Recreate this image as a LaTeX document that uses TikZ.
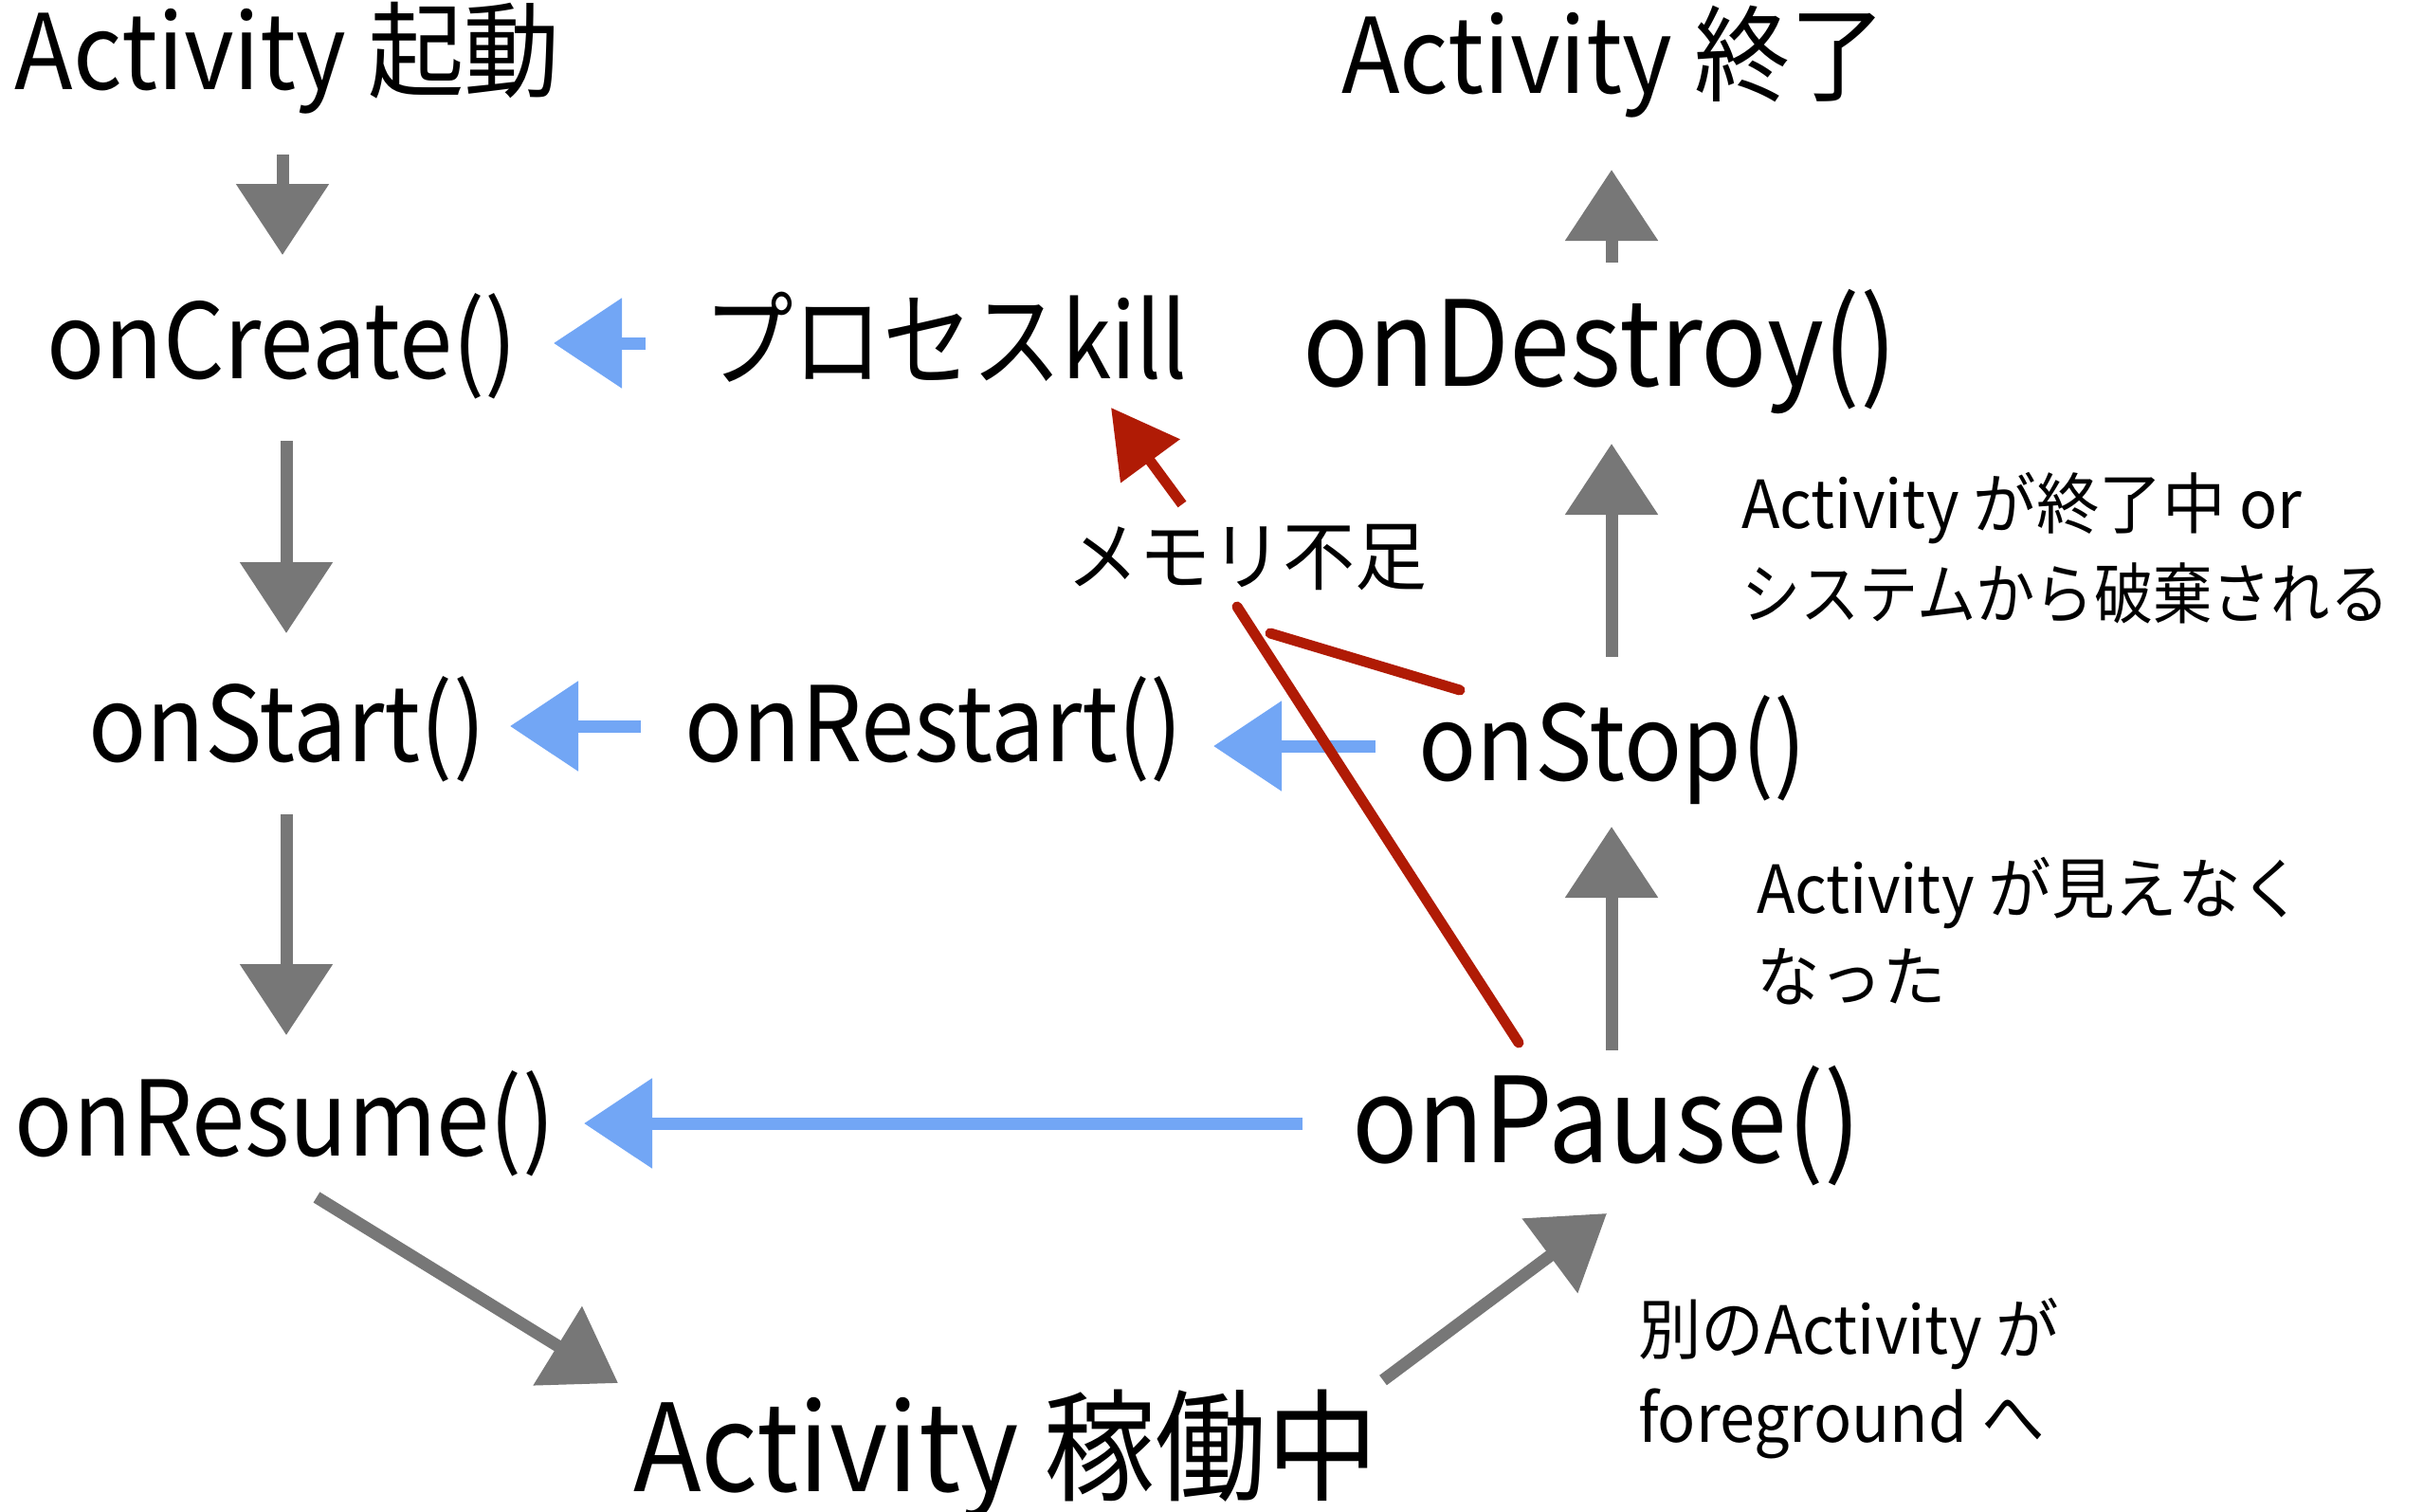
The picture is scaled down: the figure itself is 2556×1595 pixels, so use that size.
\documentclass[tikz,border=0pt]{standalone}
\usepackage{fontspec}
\setmainfont[FakeStretch=0.92]{Noto Sans CJK JP}
\newfontfamily\smallfont[FakeStretch=0.95]{Noto Sans CJK JP}
\newfontfamily\smallnarrowfont[FakeStretch=0.89]{Noto Sans CJK JP}
\newfontfamily\narrowfont[FakeStretch=0.86]{Noto Sans CJK JP}
\usetikzlibrary{arrows.meta,calc}
\definecolor{chalkgray}{HTML}{777777}
\definecolor{chalkblue}{HTML}{72A6F5}
\definecolor{chalkred}{HTML}{B01B05}
\tikzset{
  lbl/.style={inner sep=0pt,outer sep=0pt,anchor=base west,text=black},
  big/.style={lbl,font=\fontsize{110}{130}\selectfont},
  huge/.style={lbl,font=\fontsize{125}{145}\selectfont},
  small/.style={lbl,font=\smallfont\fontsize{70}{90}\selectfont},
  graya/.style={draw=chalkgray,line width=13pt,-{Triangle[length=75pt,width=95pt]}},
  bluea/.style={draw=chalkblue,line width=13pt,-{Triangle[length=72pt,width=92pt]}},
  reda/.style={draw=chalkred,line width=11pt,-{Triangle[length=70pt,width=75pt]}},
  redl/.style={draw=chalkred,line width=11pt,line cap=round},
}
\begin{document}
\begin{tikzpicture}[x=1pt,y=-1pt]
\useasboundingbox (0,0) rectangle (2556,1595);
% nodes
\node[big]   (act1)    at (16,95)    {Activity 起動};
\node[big]   (act2)    at (1415,98)  {Activity 終了};
\node[big]   (create)  at (49,399)   {onCreate()};
\node[lbl,font=\narrowfont\fontsize{110}{130}\selectfont] (kill) at (742,399) {プロセスkill};
\node[huge]  (destroy) at (1374,407) {onDestroy()};
\node[small] (fin1)    at (1837,557) {Activity が終了中 or};
\node[lbl,font=\smallnarrowfont\fontsize{70}{90}\selectfont] (fin2) at (1837,652) {システムから破棄される};
\node[lbl,font=\smallfont\fontsize{80}{96}\selectfont] (memory) at (1125,616) {メモリ不足};
\node[big]   (start)   at (93,803)   {onStart()};
\node[big]   (restart) at (722,803)  {onRestart()};
\node[big]   (stop)    at (1496,823) {onStop()};
\node[small] (vis1)    at (1853,963) {Activity が見えなく};
\node[small] (vis2)    at (1853,1056){なった};
\node[big]   (resume)  at (16,1219)  {onResume()};
\node[huge]  (pause)   at (1426,1226){onPause()};
\node[small] (fg1)     at (1728,1428){別のActivity が};
\node[small] (fg2)     at (1728,1521){foreground へ};
\node[lbl,font=\fontsize{128}{150}\selectfont] (running) at (668,1573) {Activity 稼働中};
% gray arrows
\draw[graya] ($(act1.base west)+(282,68)$)    -- ($(create.base west)+(249,-130)$);
\draw[graya] ($(create.base west)+(253,66)$)  -- ($(start.base west)+(209,-135)$);
\draw[graya] ($(start.base west)+(209,56)$)   -- ($(resume.base west)+(286,-127)$);
\draw[graya] ($(resume.base west)+(318,44)$)  -- ($(running.base west)+(-16,-114)$);
\draw[graya] ($(running.base west)+(791,-117)$) -- ($(pause.base west)+(269,54)$);
\draw[graya] ($(pause.base west)+(274,-118)$) -- ($(stop.base west)+(204,49)$);
\draw[graya] ($(stop.base west)+(204,-130)$)  -- ($(destroy.base west)+(326,61)$);
\draw[graya] ($(destroy.base west)+(326,-130)$) -- ($(act2.base west)+(285,81)$);
% blue arrows
\draw[bluea] ($(kill.base west)+(-61,-37)$)    -- ($(create.base west)+(535,-37)$);
\draw[bluea] ($(restart.base west)+(-46,-37)$) -- ($(start.base west)+(445,-37)$);
\draw[bluea] ($(stop.base west)+(-45,-36)$)    -- ($(restart.base west)+(558,-16)$);
\draw[bluea] ($(pause.base west)+(-52,-41)$)   -- ($(resume.base west)+(600,-34)$);
% red
\draw[redl] ($(pause.base west)+(176,-126)$) -- ($(memory.base west)+(180,24)$);
\draw[redl] ($(stop.base west)+(44,-95)$)    -- ($(memory.base west)+(215,52)$);
\draw[reda] ($(memory.base west)+(122,-84)$) -- ($(kill.base west)+(430,31)$);
\end{tikzpicture}
\end{document}
